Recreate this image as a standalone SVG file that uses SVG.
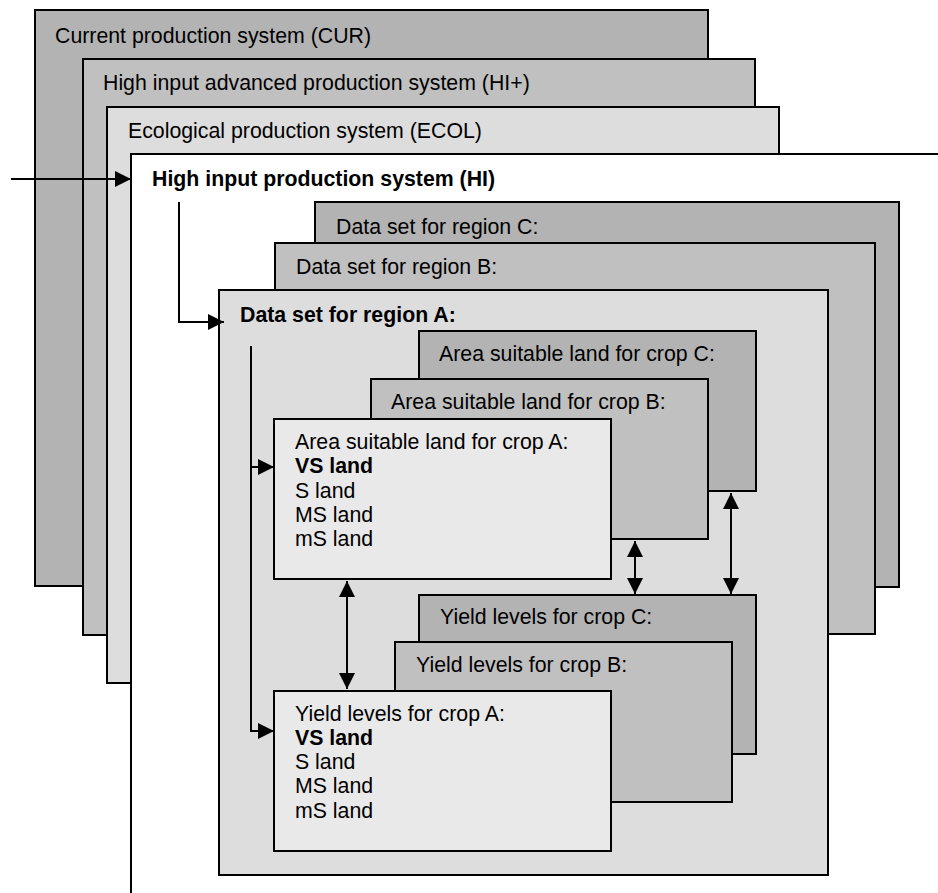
<svg xmlns="http://www.w3.org/2000/svg" width="938" height="893" viewBox="0 0 938 893">
<style>
  text { font-family: "Liberation Sans", Arial, sans-serif; font-size: 21.3px; fill: #000; }
  .b { font-weight: bold; }
  .box { stroke: #000; stroke-width: 2; }
  .dark { fill: #b3b3b3; }
  .mid { fill: #c0c0c0; }
  .light { fill: #dddddd; }
  .pale { fill: #e9e9e9; }
  .conn { fill: none; stroke: #000; stroke-width: 2; }
</style>
<defs>
  <marker id="ah" markerUnits="userSpaceOnUse" markerWidth="16" markerHeight="16" viewBox="0 0 16 16" refX="16" refY="8" orient="auto-start-reverse">
    <path d="M0,0 L16,8 L0,16 z" fill="#000"/>
  </marker>
</defs>
<rect width="938" height="893" fill="#fff"/>

<g id="cur">
  <rect class="box dark" x="35" y="10" width="673" height="576"/>
  <text x="55" y="43">Current production system (CUR)</text>
</g>
<g id="hiplus">
  <rect class="box mid" x="83" y="59" width="672" height="576"/>
  <text x="103" y="90">High input advanced production system (HI+)</text>
</g>
<g id="ecol">
  <rect class="box light" x="107" y="107" width="672" height="576"/>
  <text x="128" y="138">Ecological production system (ECOL)</text>
</g>
<g id="hi">
  <rect x="131" y="154" width="807" height="739" fill="#fff"/>
  <path class="conn" d="M131,893 V154 H938"/>
  <text class="b" x="152" y="186">High input production system (HI)</text>
</g>

<g id="regionC">
  <rect class="box dark" x="315" y="202" width="584" height="385"/>
  <text x="336" y="234">Data set for region C:</text>
</g>
<g id="regionB">
  <rect class="box mid" x="275" y="243" width="600" height="391"/>
  <text x="296" y="274">Data set for region B:</text>
</g>
<g id="regionA">
  <rect class="box light" x="219" y="290" width="609" height="585"/>
  <text class="b" x="240" y="322">Data set for region A:</text>
</g>

<g id="areaC">
  <rect class="box dark" x="419" y="331" width="337" height="160"/>
  <text x="439" y="361">Area suitable land for crop C:</text>
</g>
<g id="areaB">
  <rect class="box mid" x="371" y="379" width="337" height="160"/>
  <text x="391" y="409">Area suitable land for crop B:</text>
</g>
<g id="areaA">
  <rect class="box pale" x="274" y="419" width="337" height="160"/>
  <text x="295" y="449">Area suitable land for crop A:</text>
  <text class="b" x="295" y="473">VS land</text>
  <text x="295" y="498">S land</text>
  <text x="295" y="522">MS land</text>
  <text x="295" y="546">mS land</text>
</g>

<g id="yieldC">
  <rect class="box dark" x="419" y="595" width="337" height="159"/>
  <text x="440" y="624">Yield levels for crop C:</text>
</g>
<g id="yieldB">
  <rect class="box mid" x="395" y="642" width="337" height="160"/>
  <text x="416" y="672">Yield levels for crop B:</text>
</g>
<g id="yieldA">
  <rect class="box pale" x="274" y="691" width="337" height="160"/>
  <text x="295" y="721">Yield levels for crop A:</text>
  <text class="b" x="295" y="745">VS land</text>
  <text x="295" y="769">S land</text>
  <text x="295" y="793">MS land</text>
  <text x="295" y="818">mS land</text>
</g>

<g id="connectors">
  <path class="conn" d="M11,179 H131" marker-end="url(#ah)"/>
  <path class="conn" d="M179,202 V322 H224" marker-end="url(#ah)"/>
  <path class="conn" d="M251,346 V731 H274" marker-end="url(#ah)"/>
  <path class="conn" d="M251,467 H274" marker-end="url(#ah)"/>
  <path class="conn" d="M347,581 V689" marker-start="url(#ah)" marker-end="url(#ah)"/>
  <path class="conn" d="M635,541 V594" marker-start="url(#ah)" marker-end="url(#ah)"/>
  <path class="conn" d="M731,493 V594" marker-start="url(#ah)" marker-end="url(#ah)"/>
</g>
</svg>
